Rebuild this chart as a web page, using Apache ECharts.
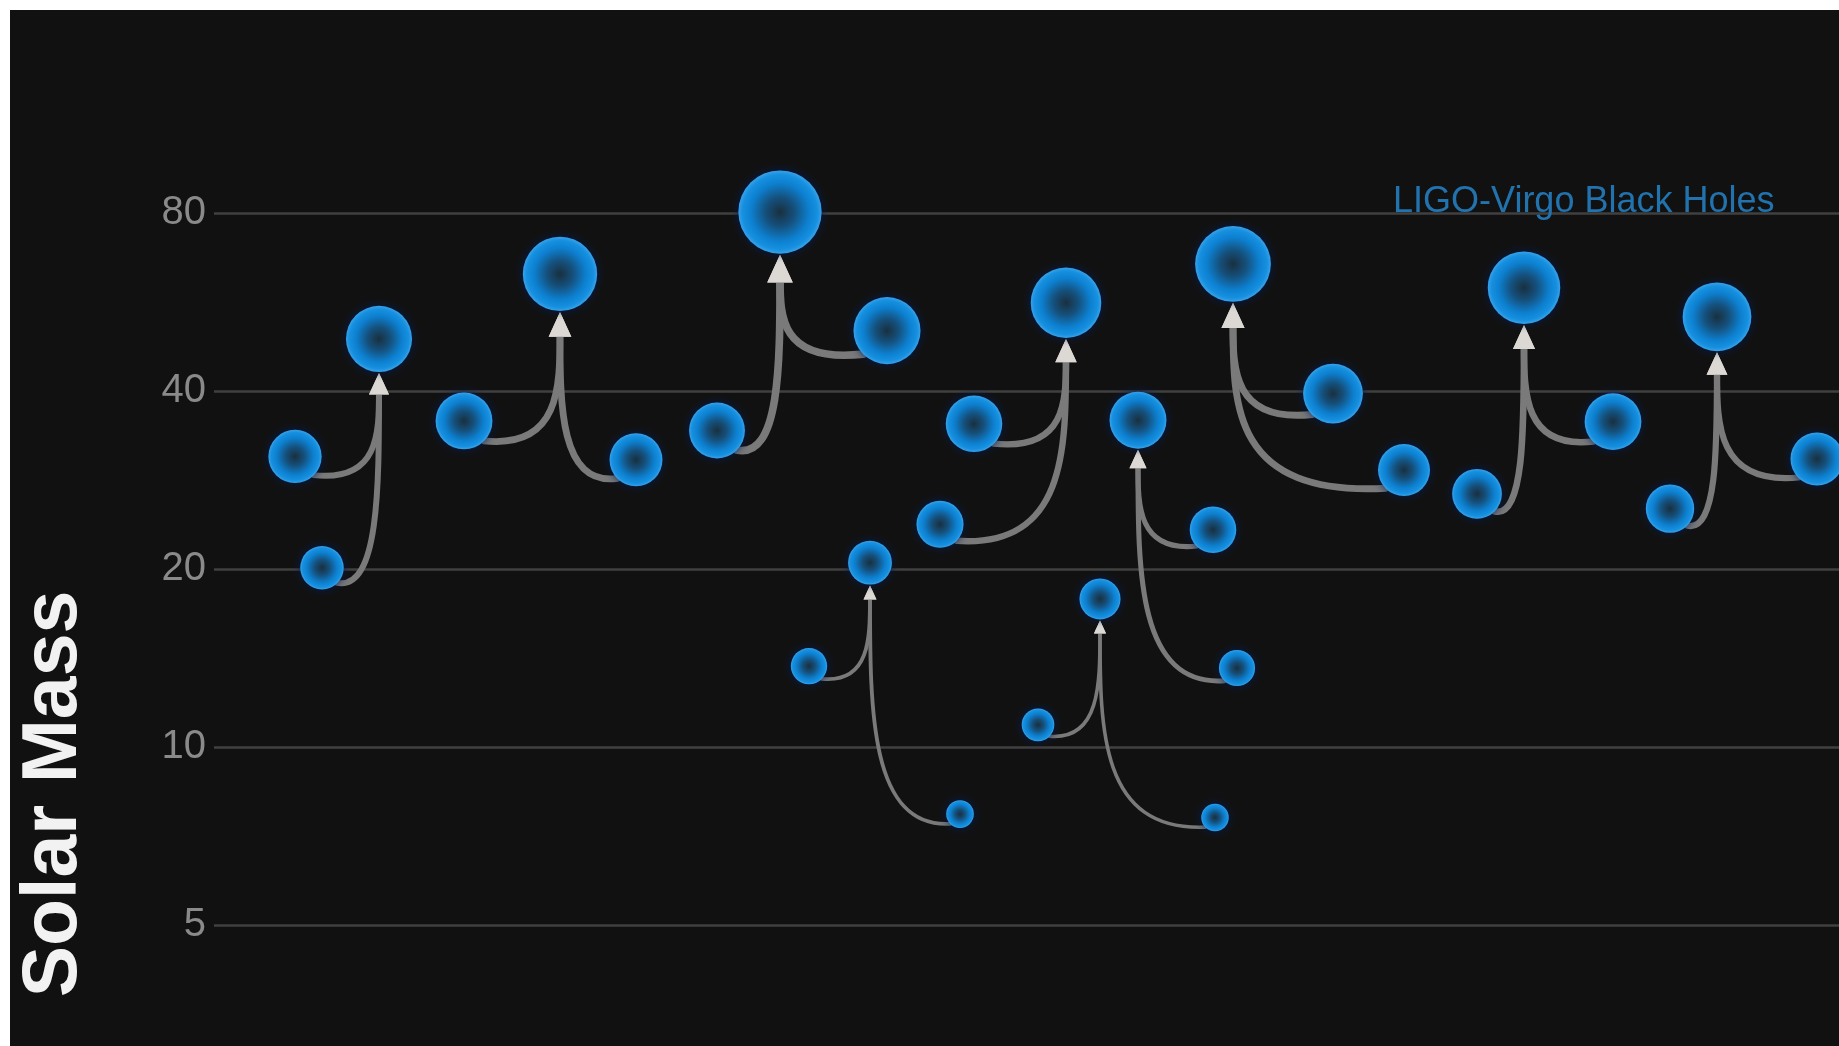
<!DOCTYPE html>
<html>
<head>
<meta charset="utf-8">
<script src="https://cdn.jsdelivr.net/npm/echarts@6/dist/echarts.min.js"></script>
<style>
  html, body { margin: 0; padding: 0; background: #ffffff; width: 1839px; height: 1046px; overflow: hidden; }
  #chart { position: absolute; left: 10px; top: 10px; width: 1829px; height: 1036px; }
</style>
</head>
<body>
<div id="chart"></div>
<script>
// ---- data ----
const events     = ['GW170104','GW150914','GW170729','GW151226','GW170809','GW170608','GW151012','GW170823','GW170818','GW170814'];
const mass1      = [31.0, 35.6, 50.6, 13.7, 35.2, 10.9, 23.3, 39.6, 35.5, 30.7];
const pos1       = [8.1, 25.0, 67.3, 59.5, 76.0, 82.4, 99.9, 111.9, 139.9, 160.3];
const mass2      = [20.1, 30.6, 34.3, 7.7, 23.8, 7.6, 13.6, 29.4, 26.8, 25.3];
const pos2       = [10.8, 42.2, 50.3, 74.6, 72.6, 100.1, 102.3, 119.0, 126.3, 145.6];
const finalMass  = [49.0, 63.1, 80.3, 20.5, 56.4, 17.8, 35.7, 65.6, 59.8, 53.4];
const finalPos   = [16.5, 34.6, 56.6, 65.6, 85.2, 88.6, 92.4, 101.9, 131.0, 150.3];
const tickMasses = [5, 10, 20, 40, 80];
const seriesLabel = 'LIGO-Virgo Black Holes';
const axisTitle = 'Solar Mass';

// log2 scale relative to 5 solar masses
const ly = m => Math.log2(m / 5);
const radius = m => 5.3 * Math.pow(m, 0.47);

const circles = [];
const links = [];
events.forEach((ev, i) => {
  circles.push({ name: ev + ' primary', value: [pos1[i], ly(mass1[i]), mass1[i]] });
  circles.push({ name: ev + ' secondary', value: [pos2[i], ly(mass2[i]), mass2[i]] });
  circles.push({ name: ev + ' final', value: [finalPos[i], ly(finalMass[i]), finalMass[i]] });
  links.push([pos1[i], ly(mass1[i]), finalPos[i], ly(finalMass[i]), mass1[i], finalMass[i]]);
  links.push([pos2[i], ly(mass2[i]), finalPos[i], ly(finalMass[i]), mass2[i], finalMass[i]]);
});

const chart = echarts.init(document.getElementById('chart'));

const bubbleFill = new echarts.graphic.RadialGradient(0.5, 0.5, 0.5, [
  { offset: 0, color: '#19303f' },
  { offset: 0.35, color: '#15507c' },
  { offset: 0.7, color: '#0d80d0' },
  { offset: 0.9, color: '#1690e0' },
  { offset: 1, color: '#3aa2e8' }
]);

chart.setOption({
  backgroundColor: '#111111',
  animation: false,
  title: {
    text: seriesLabel,
    left: 1383,
    top: 174,
    padding: 0,
    textStyle: { color: '#2272ad', fontSize: 36, fontWeight: 'normal', fontFamily: 'Liberation Sans, Arial, sans-serif' }
  },
  graphic: [{
    type: 'text',
    x: 45,
    y: 784,
    rotation: Math.PI / 2,
    style: {
      text: axisTitle,
      fill: '#f2f2f2',
      font: 'bold 77px "Liberation Sans", Arial, sans-serif',
      align: 'center',
      verticalAlign: 'middle'
    }
  }],
  grid: { left: 204, right: 0, top: 25, bottom: 121, containLabel: false },
  xAxis: {
    type: 'value', min: 0, max: 162.5,
    show: false
  },
  yAxis: {
    type: 'value', min: 0, max: 5, interval: 1,
    axisLine: { show: false },
    axisTick: { show: false },
    axisLabel: {
      showMaxLabel: false,
      margin: 8,
      color: '#8a8a8a',
      fontSize: 40,
      fontFamily: 'Liberation Sans, Arial, sans-serif',
      formatter: v => {
        const m = Math.round(5 * Math.pow(2, v));
        return tickMasses.includes(m) ? String(m) : '';
      }
    },
    splitLine: {
      show: true,
      showMaxLine: false,
      lineStyle: { color: ['#404040', '#404040', '#404040', '#404040', '#404040', 'transparent'], width: 2.5 }
    }
  },
  series: [
    {
      type: 'custom',
      z: 1,
      clip: false,
      encode: { x: [0, 2], y: [1, 3] },
      data: links,
      renderItem: (params, api) => {
        const p = api.coord([api.value(0), api.value(1)]);
        const f = api.coord([api.value(2), api.value(3)]);
        const mp = api.value(4), mf = api.value(5);
        const rp = radius(mp), rf = radius(mf);
        const s = Math.sign(f[0] - p[0]) || 1;
        const x0 = p[0] + s * rp * 0.7;
        const y0 = p[1] + rp * 0.7;
        const al = 3.1 * Math.sqrt(mf);
        const tipY = f[1] + rf + 1;
        const y3 = tipY + al * 0.85;
        const dy = y0 - y3;
        const lw = 0.85 * Math.sqrt(mf);
        return {
          type: 'group',
          children: [
            {
              type: 'bezierCurve',
              shape: { x1: x0, y1: y0, cpx1: f[0], cpy1: y0 + lw * 1.2, cpx2: f[0], cpy2: y0 - 0.5 * dy, x2: f[0], y2: y3 },
              style: { stroke: '#7a7a7a', lineWidth: lw, fill: null, lineCap: 'round' }
            },
            {
              type: 'polygon',
              shape: { points: [[f[0], tipY], [f[0] - al * 0.46, tipY + al], [f[0] + al * 0.46, tipY + al]] },
              style: { fill: '#dcd8d4' }
            }
          ]
        };
      }
    },
    {
      type: 'scatter',
      name: seriesLabel,
      z: 2,
      clip: false,
      data: circles,
      symbol: 'circle',
      symbolSize: v => 2 * radius(v[2]),
      itemStyle: {
        color: bubbleFill,
        opacity: 1,
        shadowBlur: 8,
        shadowColor: 'rgba(0, 30, 90, 0.9)'
      }
    }
  ]
});
</script>
</body>
</html>
